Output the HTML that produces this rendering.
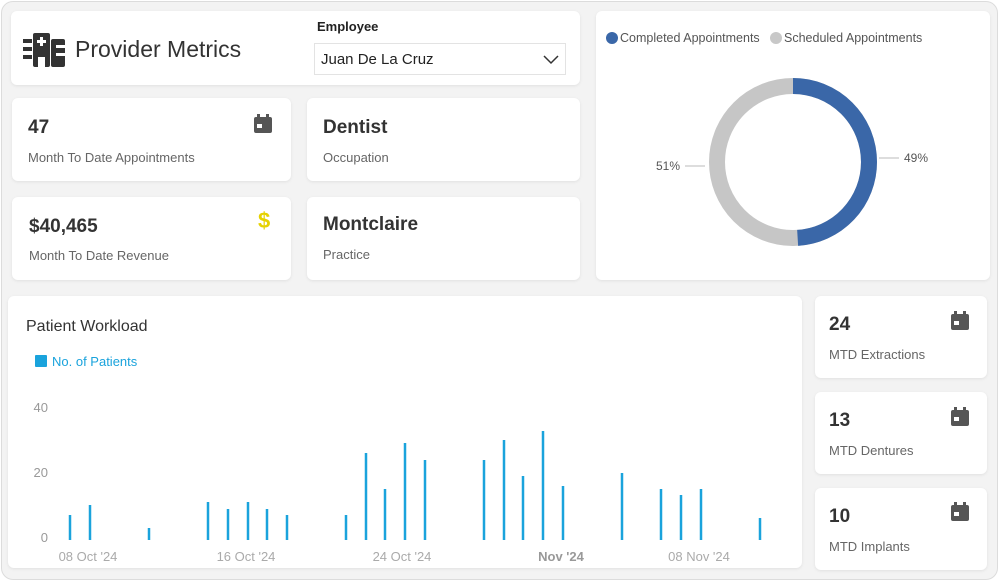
<!DOCTYPE html>
<html><head><style>
body{margin:0;width:999px;height:581px;background:#fff;font-family:"Liberation Sans",sans-serif;overflow:hidden;position:relative}
.frame{position:absolute;left:1px;top:1px;width:995px;height:577px;border-radius:12px;background:#f3f3f3;border:1px solid #dcdcdc}
.card{position:absolute;background:#fff;border-radius:6px;box-shadow:0 1px 3px rgba(0,0,0,.08)}
.big{position:absolute;font-size:19px;font-weight:bold;color:#333}
.sub{position:absolute;font-size:13px;color:#666}
.cal{position:absolute;width:18px;height:16px;background:#555;border-radius:2px}
.cal:before{content:"";position:absolute;left:3px;top:-3px;width:3px;height:4px;background:#555;box-shadow:9px 0 #555}
.cal:after{content:"";position:absolute;left:3px;top:7px;width:5px;height:4px;background:#fff}
</style></head><body>
<div class="frame"></div>
<div class="card" style="left:11px;top:11px;width:569px;height:74px">
 <svg style="position:absolute;left:12px;top:22px" width="44" height="34" viewBox="0 0 44 34"><g fill="#333"><rect x="0" y="6" width="9" height="4"/><rect x="0" y="14" width="9" height="4"/><rect x="0" y="22" width="9" height="4"/><rect x="10" y="0" width="17" height="34" rx="2"/><rect x="28" y="6" width="14" height="28" rx="2"/></g><rect x="17" y="4" width="3" height="9" fill="#fff"/><rect x="14" y="7" width="9" height="3" fill="#fff"/><rect x="15" y="24" width="7" height="10" fill="#fff"/><rect x="33" y="12" width="9" height="3" fill="#fff"/><rect x="33" y="20" width="9" height="3" fill="#fff"/></svg>
 <div style="position:absolute;left:64px;top:25px;font-size:23px;color:#333">Provider Metrics</div>
 <div style="position:absolute;left:306px;top:8px;font-size:13px;color:#222;font-weight:bold">Employee</div>
 <div style="position:absolute;left:303px;top:32px;width:250px;height:30px;border:1px solid #e3e3e3;background:#fff">
  <div style="position:absolute;left:6px;top:7px;font-size:15px;color:#222">Juan De La Cruz</div>
  <svg style="position:absolute;right:6px;top:11px" width="16" height="10"><polyline points="1,1 8,8 15,1" fill="none" stroke="#333" stroke-width="1.5"/></svg>
 </div>
</div>
<div class="card" style="left:12px;top:98px;width:279px;height:83px"><div class="big" style="left:16px;top:19px">47</div><div class="sub" style="left:16px;top:52px">Month To Date Appointments</div></div>
<div class="card" style="left:307px;top:98px;width:273px;height:83px"><div class="big" style="left:16px;top:19px">Dentist</div><div class="sub" style="left:16px;top:52px">Occupation</div></div>
<div class="card" style="left:12px;top:197px;width:279px;height:83px"><div class="big" style="left:17px;top:19px">$40,465</div><div class="sub" style="left:17px;top:51px">Month To Date Revenue</div><div style="position:absolute;left:246px;top:11px;font-size:22px;font-weight:bold;color:#e6d200">$</div></div>
<div class="card" style="left:307px;top:197px;width:273px;height:83px"><div class="big" style="left:16px;top:17px">Montclaire</div><div class="sub" style="left:16px;top:50px">Practice</div></div>
<div class="card" style="left:596px;top:11px;width:394px;height:269px">
 <svg width="394" height="269" style="position:absolute;left:0;top:0">
  <circle cx="16" cy="27" r="6" fill="#3a67a8"/><text x="24" y="31" font-size="12.5" fill="#555" font-family="Liberation Sans">Completed Appointments</text>
  <circle cx="180" cy="27" r="6" fill="#c8c8c8"/><text x="188" y="31" font-size="12.5" fill="#555" font-family="Liberation Sans">Scheduled Appointments</text>
  <circle cx="197" cy="151" r="76" fill="none" stroke="#c6c6c6" stroke-width="16"/>
  <circle cx="197" cy="151" r="76" fill="none" stroke="#3a67a8" stroke-width="16" stroke-dasharray="234 1000" transform="rotate(-90 197 151)"/>
  <line x1="283" y1="147" x2="303" y2="147" stroke="#bbb"/><text x="308" y="151" font-size="12" fill="#555" font-family="Liberation Sans">49%</text>
  <line x1="89" y1="155" x2="109" y2="155" stroke="#bbb"/><text x="60" y="159" font-size="12" fill="#555" font-family="Liberation Sans">51%</text>
 </svg>
</div>
<div class="card" style="left:8px;top:296px;width:794px;height:272px">
 <svg width="794" height="272" style="position:absolute;left:0;top:0" font-family="Liberation Sans">
  <text x="18" y="35" font-size="16" fill="#333">Patient Workload</text>
  <rect x="27" y="59" width="12" height="12" fill="#1aa3dc" rx="1"/><text x="44" y="70" font-size="13" fill="#1aa3dc">No. of Patients</text>
  <g font-size="13" fill="#999" text-anchor="end"><text x="40" y="116">40</text><text x="40" y="181">20</text><text x="40" y="246">0</text></g>
  <g stroke="#1aa3dc" stroke-width="2.5">
   <line x1="62" x2="62" y1="244" y2="219"/><line x1="82" x2="82" y1="244" y2="209"/><line x1="141" x2="141" y1="244" y2="232"/>
   <line x1="200" x2="200" y1="244" y2="206"/><line x1="220" x2="220" y1="244" y2="213"/><line x1="240" x2="240" y1="244" y2="206"/><line x1="259" x2="259" y1="244" y2="213"/><line x1="279" x2="279" y1="244" y2="219"/>
   <line x1="338" x2="338" y1="244" y2="219"/><line x1="358" x2="358" y1="244" y2="157"/><line x1="377" x2="377" y1="244" y2="193"/><line x1="397" x2="397" y1="244" y2="147"/><line x1="417" x2="417" y1="244" y2="164"/>
   <line x1="476" x2="476" y1="244" y2="164"/><line x1="496" x2="496" y1="244" y2="144"/><line x1="515" x2="515" y1="244" y2="180"/><line x1="535" x2="535" y1="244" y2="135"/><line x1="555" x2="555" y1="244" y2="190"/>
   <line x1="614" x2="614" y1="244" y2="177"/><line x1="653" x2="653" y1="244" y2="193"/><line x1="673" x2="673" y1="244" y2="199"/><line x1="693" x2="693" y1="244" y2="193"/><line x1="752" x2="752" y1="244" y2="222"/>
  </g>
  <g font-size="13" fill="#aaa" text-anchor="middle"><text x="80" y="265">08 Oct '24</text><text x="238" y="265">16 Oct '24</text><text x="394" y="265">24 Oct '24</text><text x="553" y="265" font-weight="bold" fill="#999">Nov '24</text><text x="691" y="265">08 Nov '24</text></g>
 </svg>
</div>
<div class="card" style="left:815px;top:296px;width:172px;height:82px"><div class="big" style="left:14px;top:18px">24</div><div class="sub" style="left:14px;top:51px">MTD Extractions</div></div>
<div class="card" style="left:815px;top:392px;width:172px;height:82px"><div class="big" style="left:14px;top:18px">13</div><div class="sub" style="left:14px;top:51px">MTD Dentures</div></div>
<div class="card" style="left:815px;top:488px;width:172px;height:82px"><div class="big" style="left:14px;top:18px">10</div><div class="sub" style="left:14px;top:51px">MTD Implants</div></div>
<div class="cal" style="left:254px;top:117px"></div>
<div class="cal" style="left:951px;top:314px"></div>
<div class="cal" style="left:951px;top:410px"></div>
<div class="cal" style="left:951px;top:505px"></div>
</body></html>
